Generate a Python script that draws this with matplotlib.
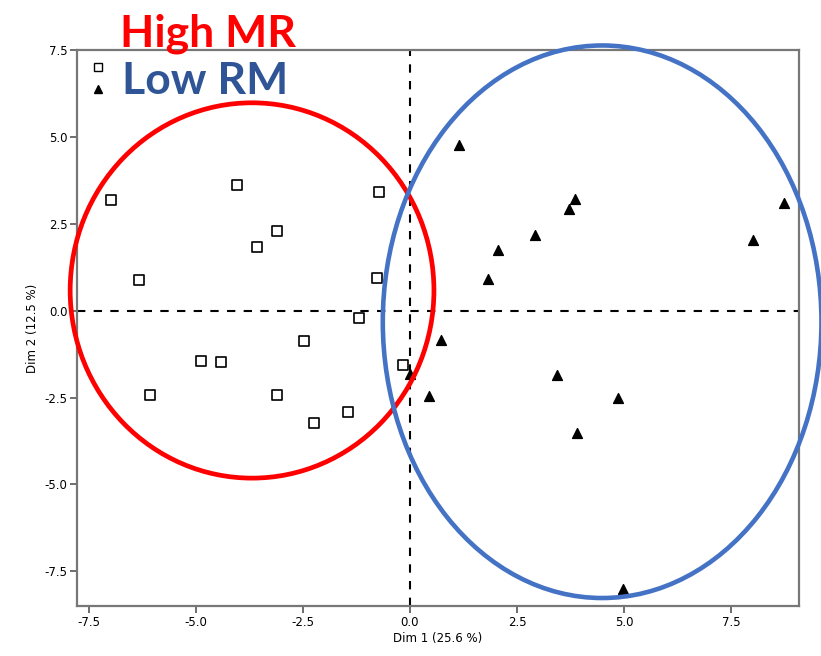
import numpy as np
import matplotlib.pyplot as plt
from matplotlib.patches import Ellipse
from matplotlib.lines import Line2D

# High MR group (open squares)
high_x = [-6.99, -4.03, -0.72, -3.11, -3.58, -6.32, -0.77, -1.18, -2.48, -4.88, -4.42, -0.16, -6.07, -3.11, -2.24, -1.44]
high_y = [3.17, 3.62, 3.41, 2.30, 1.82, 0.89, 0.94, -0.20, -0.86, -1.45, -1.49, -1.57, -2.44, -2.43, -3.22, -2.93]

# Low RM group (filled triangles)
low_x = [1.14, 3.86, 3.71, 8.75, 2.93, 2.06, 8.01, 1.82, 0.72, 0.0, 0.44, 3.43, 4.85, 3.91, 4.98]
low_y = [4.78, 3.22, 2.91, 3.09, 2.19, 1.75, 2.02, 0.92, -0.84, -1.83, -2.45, -1.85, -2.51, -3.53, -8.0]

ticks = [-7.5, -5.0, -2.5, 0.0, 2.5, 5.0, 7.5]

fig = plt.figure(figsize=(8.21, 6.56), dpi=100)
ax = fig.add_axes([0.0938, 0.0762, 0.8794, 0.8476])

ax.scatter(high_x, high_y, marker='s', s=42, facecolors='white', edgecolors='black', linewidths=1.2, zorder=3)
ax.scatter(low_x, low_y, marker='^', s=50, color='black', zorder=3)

ax.axhline(0, color='black', linestyle='--', linewidth=1.5, dashes=(4, 4), zorder=1)
ax.axvline(0, color='black', linestyle='--', linewidth=1.5, dashes=(4, 4), zorder=1)

ax.set_xlim(-7.78, 9.09)
ax.set_ylim(-8.5, 7.5)
ax.set_xticks(ticks)
ax.set_yticks(ticks)
ax.set_xticklabels([f"{t:.1f}" for t in ticks], fontsize=8.5)
ax.set_yticklabels([f"{t:.1f}" for t in ticks], fontsize=8.5)
ax.tick_params(length=5, width=1.2, color='#555555', pad=2)
for s in ax.spines.values():
    s.set_color('#777777')
    s.set_linewidth(1.6)

ax.set_xlabel('Dim 1 (25.6 %)', fontsize=8.5, labelpad=2)
ax.set_ylabel('Dim 2 (12.5 %)', fontsize=8.5, labelpad=4)

# legend markers only
handles = [Line2D([], [], marker='s', linestyle='', markerfacecolor='white', markeredgecolor='black', markersize=6),
           Line2D([], [], marker='^', linestyle='', color='black', markersize=6)]
ax.legend(handles, ['', ''], loc='upper left', frameon=False, handletextpad=0,
          bbox_to_anchor=(0.0, 1.003), labelspacing=0.55, handlelength=1.2)

# group circles
ax.add_patch(Ellipse((-3.69, 0.58), 8.5, 10.8, fill=False, edgecolor='#FF0000', linewidth=3.4, clip_on=False, zorder=4))
ax.add_patch(Ellipse((4.49, -0.32), 10.25, 15.9, fill=False, edgecolor='#4472C4', linewidth=3.3, clip_on=False, zorder=4))

fig.text(0.146, 1 - 46 / 656, 'High MR', color='#FF0000', fontsize=32, fontweight='bold', family='Lato', va='baseline')
fig.text(0.148, 1 - 94 / 656, 'Low RM', color='#2F5597', fontsize=32, fontweight='bold', family='Lato', va='baseline')

fig.savefig('out.png', dpi=100)
